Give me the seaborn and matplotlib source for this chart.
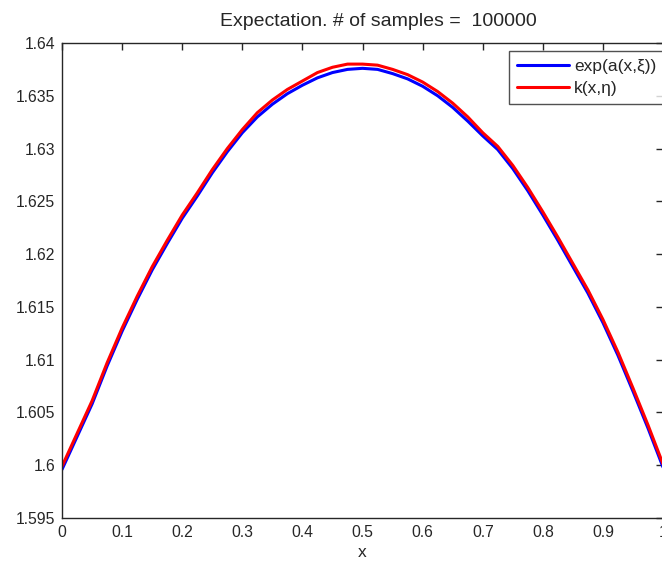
import pandas as pd
import matplotlib
matplotlib.use('Agg')
import matplotlib.pyplot as plt
import matplotlib.ticker as mticker
import seaborn as sns

# === DANE ===
x = [0.0, 0.025, 0.05, 0.075, 0.1, 0.125, 0.15, 0.175, 0.2, 0.225,
     0.25, 0.275, 0.3, 0.325, 0.35, 0.375, 0.4, 0.425, 0.45, 0.475,
     0.5, 0.525, 0.55, 0.575, 0.6, 0.625, 0.65, 0.675, 0.7, 0.725,
     0.75, 0.775, 0.8, 0.825, 0.85, 0.875, 0.9, 0.925, 0.95, 0.975, 1.0]

exp_a = [1.5996, 1.6027, 1.6058, 1.6094, 1.6127, 1.6157, 1.6185, 1.6210, 1.6234, 1.6255,
         1.6277, 1.6297, 1.6315, 1.6330, 1.6342, 1.6352, 1.6360, 1.6367, 1.6372, 1.6375,
         1.6376, 1.6375, 1.6371, 1.6366, 1.6359, 1.6350, 1.6339, 1.6326, 1.6312, 1.6299,
         1.6281, 1.6260, 1.6237, 1.6213, 1.6188, 1.6163, 1.6135, 1.6104, 1.6070, 1.6035, 1.5998]

k_eta = [1.5999, 1.6030, 1.6061, 1.6097, 1.6130, 1.6160, 1.6188, 1.6213, 1.6237, 1.6258,
         1.6280, 1.6300, 1.6318, 1.6334, 1.6346, 1.6356, 1.6364, 1.6372, 1.6377, 1.6380,
         1.6380, 1.6379, 1.6375, 1.6370, 1.6363, 1.6354, 1.6343, 1.6330, 1.6315, 1.6302,
         1.6284, 1.6263, 1.6240, 1.6216, 1.6191, 1.6166, 1.6138, 1.6107, 1.6073, 1.6038, 1.6001]

labels = ['exp(a(x,ξ))', 'k(x,η)']
title = 'Expectation. # of samples =  100000'

df = pd.DataFrame({'x': x, labels[0]: exp_a, labels[1]: k_eta})
df_long = df.melt(id_vars='x', var_name='seria', value_name='y')

# === WYKRES ===
sns.set_style('white')
plt.rcParams['font.family'] = ['Liberation Sans', 'DejaVu Sans']

fig = plt.figure(figsize=(6.62, 5.65), dpi=100)
ax = fig.add_axes([0.0937, 0.0832, 0.9079, 0.8407])

sns.lineplot(data=df_long, x='x', y='y', hue='seria',
             palette={labels[0]: '#0000ff', labels[1]: '#ff0000'},
             linewidth=2.2, ax=ax, legend=True)

ax.set_xlim(0, 1)
ax.set_ylim(1.595, 1.64)
ax.xaxis.set_major_locator(mticker.MultipleLocator(0.1))
ax.yaxis.set_major_locator(mticker.MultipleLocator(0.005))
fmt = mticker.FuncFormatter(lambda v, p: '%g' % round(v, 4))
ax.xaxis.set_major_formatter(fmt)
ax.yaxis.set_major_formatter(fmt)
ax.tick_params(direction='in', length=5, width=1, colors='#262626',
               labelsize=11.3, top=True, right=True, pad=5)
for s in ax.spines.values():
    s.set_color('#262626')
    s.set_linewidth(1.0)

ax.set_xlabel('x', fontsize=12.5, labelpad=4)
ax.set_ylabel('')
ax.set_title(title, fontsize=14, x=0.526, pad=12)

leg = ax.legend(loc='upper right', bbox_to_anchor=(1.002, 0.983), borderaxespad=0,
                fontsize=12.5, frameon=True, fancybox=False, handlelength=3.0,
                handletextpad=0.3, borderpad=0.45, labelspacing=0.4)
leg.get_frame().set_edgecolor('#262626')
leg.get_frame().set_linewidth(1.0)
for line in leg.get_lines():
    line.set_linewidth(2.2)

fig.savefig('out.png', dpi=100)
